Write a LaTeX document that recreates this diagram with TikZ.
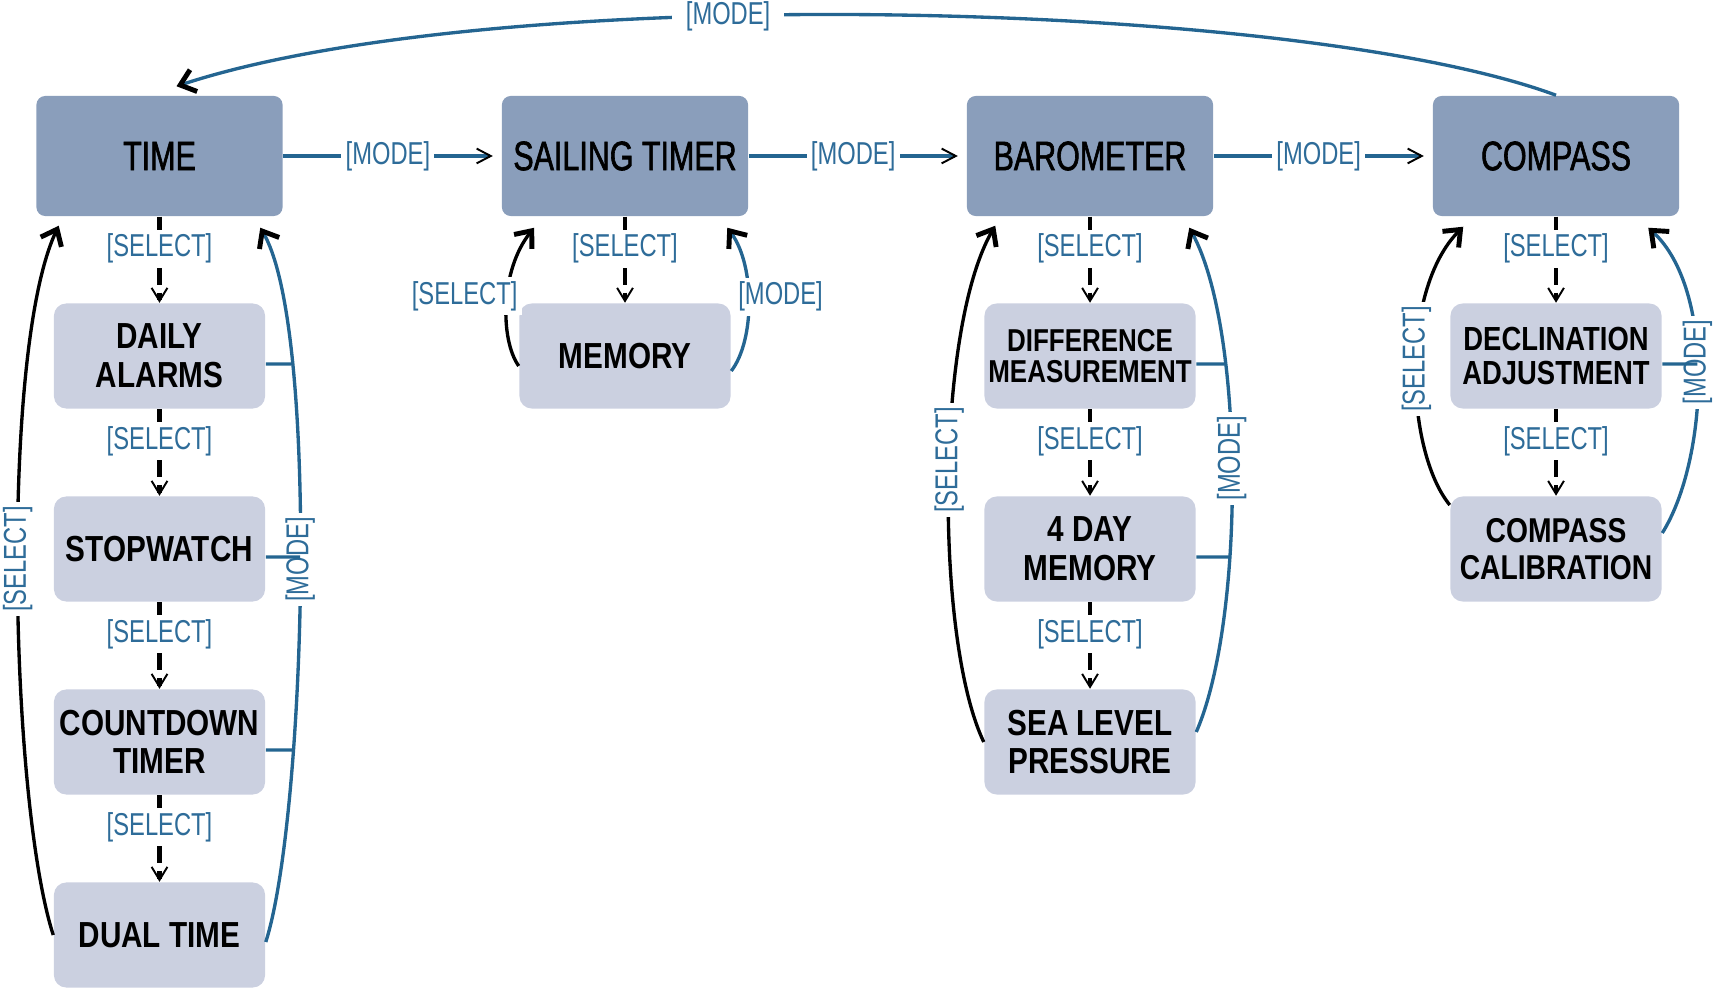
\documentclass[tikz,border=0pt]{standalone}
\usepackage{fontspec}
\setmainfont{Liberation Sans}
\newfontfamily\modefont[FakeStretch=0.74,FakeBold=1.5]{Liberation Sans}
\newfontfamily\subfont[FakeStretch=0.82]{Liberation Sans}
\newfontfamily\keyfont[FakeStretch=0.75]{Liberation Sans}
\usetikzlibrary{arrows.meta}
\usetikzlibrary{intersections}
\definecolor{modeblue}{RGB}{36,101,145}
\definecolor{keyblue}{RGB}{46,108,153}
\definecolor{mainfill}{RGB}{138,158,187}
\definecolor{subfill}{RGB}{203,208,224}
\tikzset{
	modebox/.style={rectangle, rounded corners=2.5pt, fill=mainfill, minimum width=2.46cm, minimum height=1.2cm, inner sep=0pt, font=\modefont\fontsize{11.7}{12}\selectfont},
	subbox/.style={rectangle, rounded corners=3.5pt, fill=subfill, minimum width=2.11cm, minimum height=1.05cm, inner sep=0pt, align=center, font=\subfont\bfseries\fontsize{10.3}{11}\selectfont},
	keylabel/.style={fill=white, inner sep=1.2pt, text=keyblue, font=\keyfont\fontsize{9}{9}\selectfont},
	selstep/.style={black, line width=1.15pt, dash pattern=on 5pt off 2.2pt, -{Straight Barb[length=3.7pt, width=4.5pt, line width=0.55pt]}},
	modestep/.style={modeblue, line width=1.3pt, shorten >=1.2pt, -{Straight Barb[color=black, length=4pt, width=4.2pt, line width=0.55pt, sep=1.2pt]}},
	back/.style={line width=0.95pt, -{Straight Barb[color=black, length=4pt, width=6.5pt, line width=1.4pt]}},
	tick/.style={modeblue, line width=0.95pt}
}
\begin{document}
\begin{tikzpicture}[x=0.01cm, y=-0.01cm]
	\useasboundingbox (0,0) rectangle (1713,989);
%	modes
	\node[modebox] (time) at (159.5,156) {TIME};
	\node[modebox] (sailing) at (625,156) {SAILING TIMER};
	\node[modebox] (baro) at (1090,156) {BAROMETER};
	\node[modebox] (compass) at (1556,156) {COMPASS};
%	screens below each mode
	\node[subbox] (alarms) at (159.5,356) {DAILY\\ALARMS};
	\node[subbox] (stopwatch) at (159.5,549) {STOPWATCH};
	\node[subbox] (countdown) at (159.5,742) {COUNTDOWN\\TIMER};
	\node[subbox] (dualtime) at (159.5,935) {DUAL TIME};
	\node[subbox] (memory) at (625,356) {MEMORY};
	\node[subbox, font=\subfont\bfseries\fontsize{9}{9}\selectfont] (diff) at (1090,356) {DIFFERENCE\\MEASUREMENT};
	\node[subbox] (fourday) at (1090,549) {4 DAY\\MEMORY};
	\node[subbox] (sealevel) at (1090,742) {SEA LEVEL\\PRESSURE};
	\node[subbox, font=\subfont\bfseries\fontsize{9.5}{9.6}\selectfont] (declination) at (1556,356) {DECLINATION\\ADJUSTMENT};
	\node[subbox, font=\subfont\bfseries\fontsize{9.8}{10.4}\selectfont] (calibration) at (1556,549) {COMPASS\\CALIBRATION};
%	[SELECT] steps
	\foreach \src/\dst in {time/alarms, alarms/stopwatch, stopwatch/countdown, countdown/dualtime, sailing/memory, baro/diff, diff/fourday, fourday/sealevel, compass/declination, declination/calibration} {
		\draw[selstep] (\src) -- (\dst) node[keylabel, pos=0.37] {[SELECT]};
	}
%	[MODE] steps
	\foreach \src/\dst in {time/sailing, sailing/baro, baro/compass} {
		\draw[modestep] (\src) -- (\dst) node[keylabel, pos=0.48] {[MODE]};
	}
	\draw[modeblue, back] (compass.north) .. controls (1300,0) and (500,-20) .. ([shift={(17,-9)}]time.north) node[keylabel, inner xsep=4pt, pos=0.6] {[MODE]};
%	loops back up
	\draw[black, back] (dualtime.west) .. controls (10,800) and (0,350) .. ([shift={(23,9)}]time.south west) node[keylabel, rotate=90, pos=0.52] {[SELECT]};
	\draw[modeblue, back, name path=tmode] ([shift={(0,7)}]dualtime.east) .. controls (305,820) and (320,330) .. ([shift={(-23,11)}]time.south east) node[keylabel, rotate=90, pos=0.52] {[MODE]};
	\draw[black, back] ([shift={(0,10)}]memory.west) .. controls (500,340) and (500,270) .. ([shift={(33,11)}]sailing.south west) node[keylabel, pos=0.5, xshift=-4.2mm, yshift=0.7mm] {[SELECT]};
	\draw[modeblue, back] ([shift={(0,15)}]memory.east) .. controls (755,340) and (755,265) .. ([shift={(-21.5,11)}]sailing.south east) node[keylabel, pos=0.5, xshift=3.2mm, yshift=0.5mm] {[MODE]};
	\draw[black, back] (sealevel.west) .. controls (935,640) and (935,330) .. ([shift={(29,9)}]baro.south west) node[keylabel, rotate=90, pos=0.54] {[SELECT]};
	\draw[modeblue, back, name path=bmode] ([shift={(0,-10)}]sealevel.east) .. controls (1245,620) and (1245,330) .. ([shift={(-24.5,11)}]baro.south east) node[keylabel, rotate=90, pos=0.53] {[MODE]};
	\draw[black, back] ([shift={(0,-44)}]calibration.west) .. controls (1405,450) and (1400,290) .. ([shift={(31,10)}]compass.south west) node[keylabel, rotate=90, pos=0.53] {[SELECT]};
	\draw[modeblue, back, name path=cmode] ([shift={(0,-16)}]calibration.east) .. controls (1708,460) and (1716,290) .. ([shift={(-31.5,11)}]compass.south east) node[keylabel, rotate=90, pos=0.54] {[MODE]};
%	side screens join the [MODE] line
	\foreach \src/\crv in {alarms/tmode, stopwatch/tmode, countdown/tmode, diff/bmode, fourday/bmode, declination/cmode} {
		\path[name path=tickpath] ([shift={(0,8)}]\src.east) -- ++(90,0);
		\draw[tick, name intersections={of={\crv} and tickpath}] ([shift={(0,8)}]\src.east) -- (intersection-1);
	}
\end{tikzpicture}
\end{document}
